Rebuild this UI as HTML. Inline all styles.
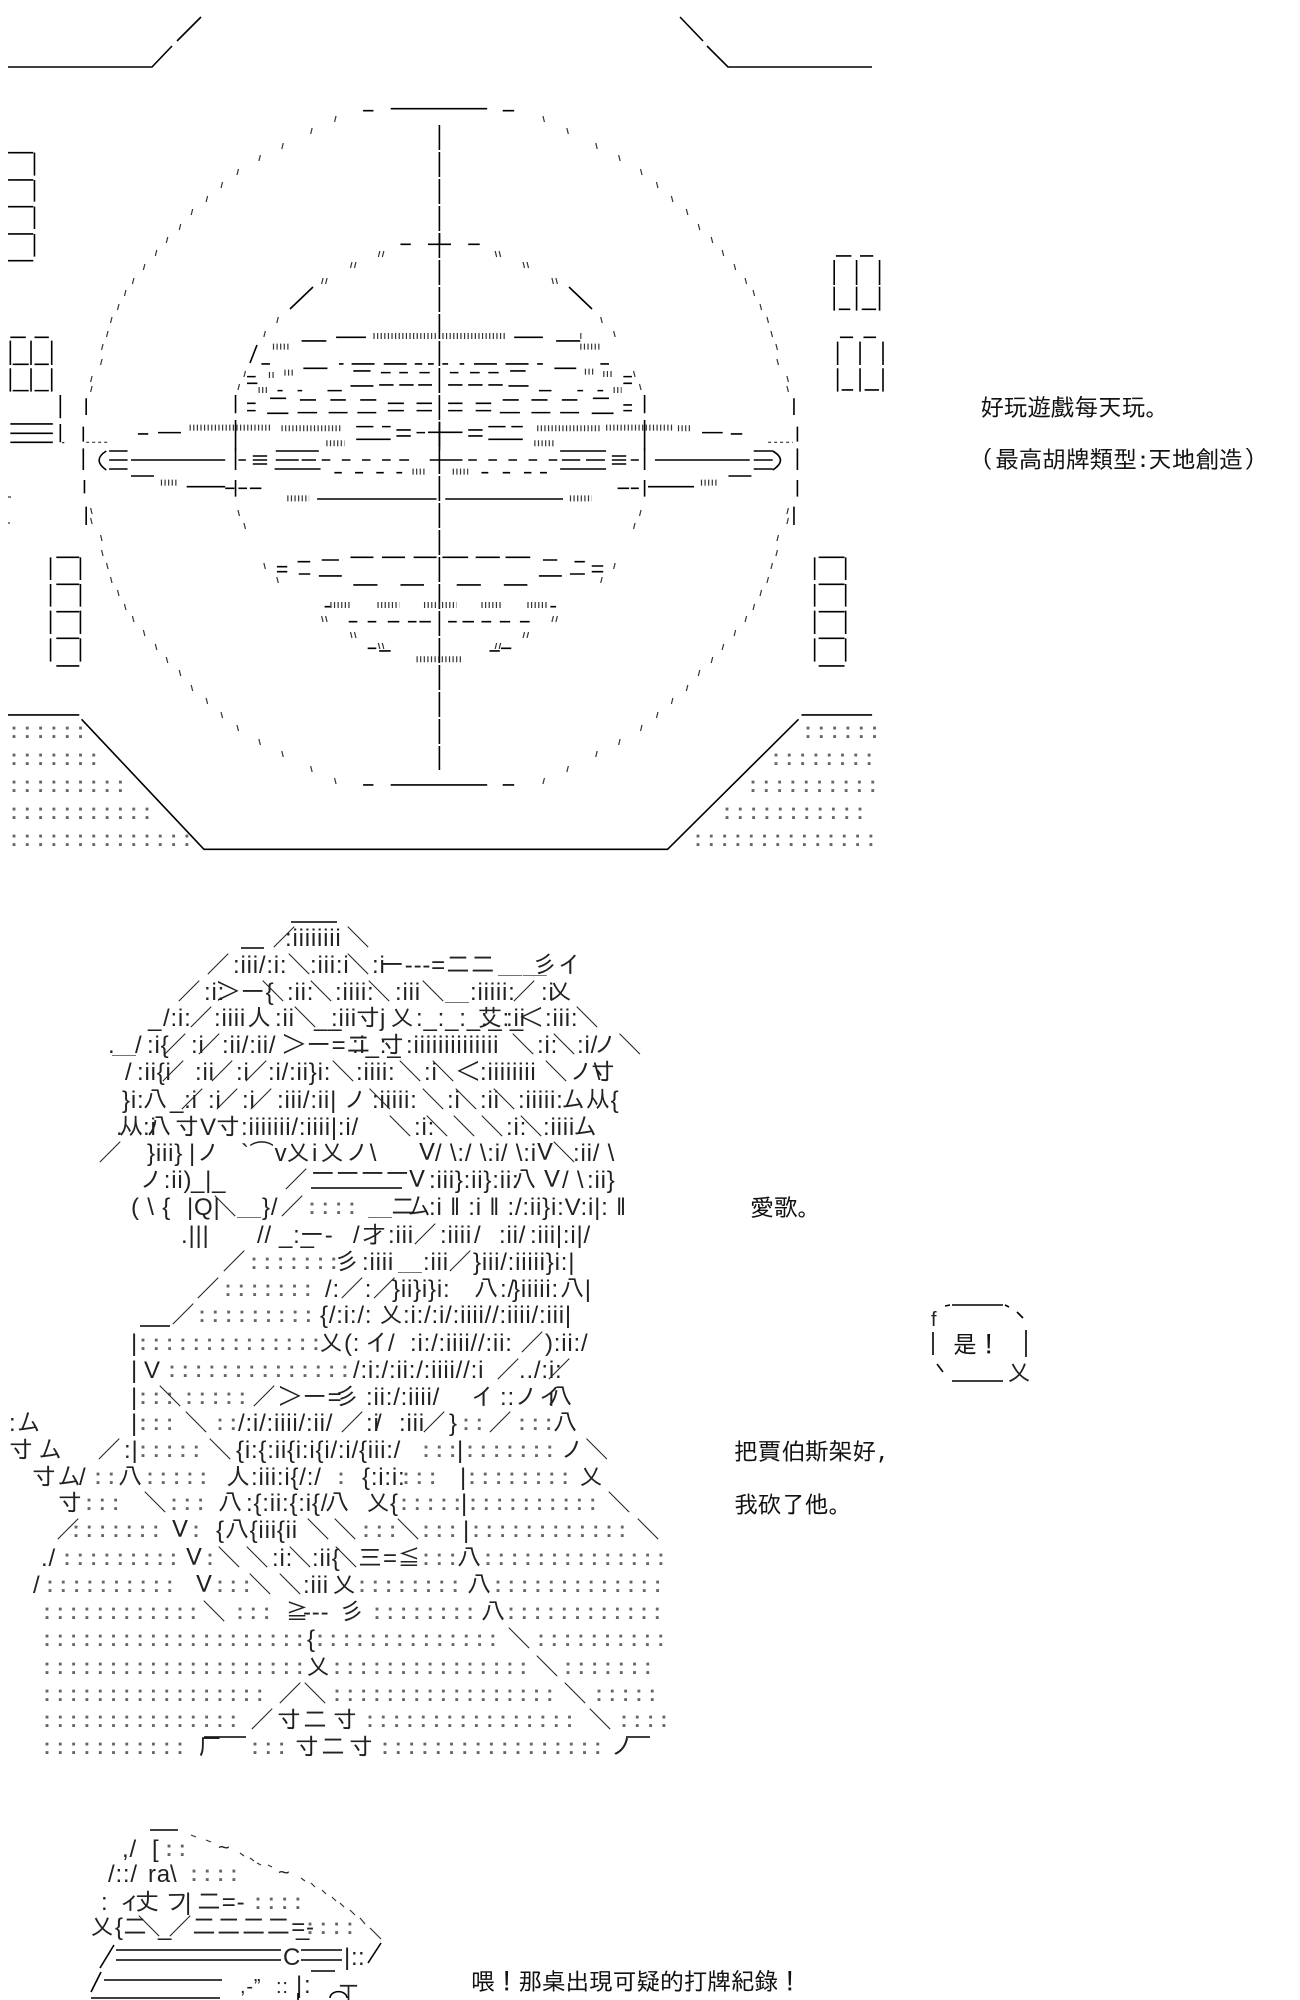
<!DOCTYPE html>
<html><head><meta charset="utf-8"><style>
html,body{margin:0;padding:0;background:#fff}
svg{display:block;position:absolute;left:0;top:0}
text{font-family:"Liberation Sans","IPAGothic","Noto Sans CJK JP",sans-serif;font-size:24px;fill:#222;white-space:pre;letter-spacing:.8px}
.d{font-family:"IPAGothic","Liberation Mono",monospace;fill:#666;letter-spacing:1.3px}
.c{font-family:"IPAGothic","Noto Sans CJK TC",sans-serif;fill:#111;letter-spacing:-.4px}
path{vector-effect:non-scaling-stroke;fill:none;stroke:#000}
.l{stroke-width:1.6}
.h{stroke-width:6;stroke:#333;stroke-dasharray:1.2 2.4}
.t{stroke-width:1.2;stroke:#333}
</style></head><body>
<svg width="1300" height="2000" viewBox="0 0 1300 2000" xmlns="http://www.w3.org/2000/svg">
<path class="l" d="M8 67H152L172 46M177 41L201 17M680 17L703 41M707 46L728 67H872"/>
<path class="l" stroke-dasharray="25 2" d="M439.4 125V770"/>
<defs><g id="q"><g transform="scale(.9957 1)"><path class="t" d="M336 122l1.5-6M312 134l1.5-6M283 149l1.5-6M260 161l1.5-6M238 175l1.5-6M222 188l1.5-6M207 202l1.5-6M192 215l1.5-6M180 230l1.5-6M167 243l1.5-6M156 256l1.5-6M144 270l1.5-6M133 284l1.5-6M125 296l1.5-6M118 310l1.5-6M111 323l1.5-6M107 337l1.5-6M102 350l1.5-6M101 365l1.5-6M91 382l1.5-6M91 392l1.5-6M380 257l1.5-6M384 257l1.5-6M352 268l1.5-6M356 268l1.5-6M323 284l1.5-6M327 284l1.5-6M278 323l1.5-6M265 337l1.5-6M245 377l1.5-6M239 390l1.5-6"/></g></g></defs>
<use href="#q"/>
<use href="#q" transform="translate(879,0) scale(-1,1)"/>
<use href="#q" transform="translate(0,900) scale(1,-1)"/>
<use href="#q" transform="translate(879,900) scale(-1,-1)"/>
<path class="l" d="M313 287L290 309M257 345L250 363M569 287L592 309"/>
<path class="t" d="M8 497h3M8 523h2"/>
<g transform="scale(.5745 .3333)">
<path class="l" d="M632 332H650M680 326H848M875 332H895M14 458H58M60 458V527M14 540H58M60 540V605M14 620H58M60 620V687M14 702H58M60 702V770M14 782H58M18 1012H45M60 1012H85M18 1022V1095M54 1022V1095M90 1022V1095M18 1105V1175M54 1105V1175M90 1105V1175M22 1093H50M60 1093H85M22 1172H50M60 1172H85M1455 768H1482M1497 768H1520M1452 780V855M1491 780V855M1531 780V855M1452 860V932M1491 860V932M1531 860V932M1460 928H1480M1500 928H1525M1462 1012H1485M1503 1012H1525M1458 1025V1095M1497 1025V1095M1537 1025V1095M1458 1105V1175M1497 1105V1175M1537 1105V1175M1465 1170H1485M1505 1170H1530M105 1185V1255M18 1272H92M18 1300H92M18 1327H92M105 1272V1327M150 1195V1245M145 1280V1325M1382 1195V1245M1388 1280V1325M410 1185V1240M410 1260V1350M1122 1185V1240M1122 1260V1350M697 733H715M745 733H785M815 733H835M765 700V733"/>
<path class="l" d="M525 1023H568M585 1012H637M895 1012H945M968 1023H1010M528 1105H570M612 1092H652M668 1092H708M825 1092H865M880 1092H920M965 1105H1003M590 1092H598M722 1092H735M745 1092H755M770 1092H780M800 1092H808M935 1092H945M455 1092H470M1045 1092H1060M615 1113H645M663 1118H680M695 1118H710M730 1118H748M783 1118H798M818 1118H835M850 1118H868M888 1113H915M430 1130H445M430 1150H448M1085 1130H1100M1085 1150H1100M610 1158H650M660 1155H685M695 1155H720M728 1155H752M780 1155H805M815 1155H840M850 1155H875M885 1158H920M483 1172H492M518 1172H526M570 1172H595M938 1172H960M1005 1172H1015M1040 1172H1050M470 1195H498M522 1200H550M575 1200H602M627 1200H655M675 1210H703M725 1210H752M780 1210H805M828 1210H855M875 1200H903M925 1200H953M978 1200H1005M1032 1195H1060M430 1210H445M430 1232H445M465 1240H502M518 1238H552M572 1238H605M622 1238H655M675 1232H703M725 1232H752M780 1232H805M828 1232H855M870 1238H905M925 1238H958M975 1238H1008M1030 1240H1068M1085 1215H1100M1085 1232H1100M240 1302H258M275 1298H315M620 1280H650M665 1280H680M620 1318H680M690 1290H715M690 1308H715M725 1298H740M745 1297H805M815 1290H840M815 1308H840M850 1280H880M890 1280H910M850 1318H910M1222 1298H1258M1272 1302H1292M765 1265V1350"/>
<path class="h" d="M650 1008H760M770 1008H880M330 1283H470M490 1285H595M935 1285H1045M1055 1283H1170M1180 1285H1205M568 1330H600M930 1330H965M475 1040H505M1010 1040H1045M495 1118H510M1018 1115H1035M1050 1122H1065M468 1125H480M450 1170H465M1068 1170H1082M1010 1008H1012"/>
<path class="t" stroke-dasharray="3 3" d="M150 1327H190M1337 1327H1380M108 1328H112"/>
</g>
<g transform="translate(0,450) scale(.5745 .3333)">
<path class="l" d="M185 3Q160 30 185 60M1345 3Q1372 30 1345 60M190 3H222M190 30H222M190 57H222M228 30H392M410 -5V60M415 30H428M440 18H465M440 30H465M440 42H465M480 3H555M480 30H520M478 57H558M525 30H550M560 30H575M595 30H610M630 30H645M665 30H680M695 30H712M748 30H805M815 30H830M850 30H865M885 30H900M920 30H935M955 30H970M978 30H1010M1020 30H1053M975 3H1055M975 57H1055M1065 18H1090M1065 30H1090M1065 42H1090M1098 30H1112M1122 -5V60M1140 30H1305M1312 3H1345M1312 30H1345M1312 57H1345"/>
<path class="l" d="M582 68H595M618 68H632M655 68H668M690 68H700M838 68H850M875 68H888M912 68H925M940 68H952M228 78H268M1268 78H1308M325 110H392M392 115H408M410 90V140M415 115H430M435 115H455M1075 115H1095M1098 115H1112M1122 90V140M1128 110H1208M552 147H760M775 147H980M145 -5V60M1388 -5V60M147 90V130M1388 90V140M150 170V225M1382 170V225M610 322H650M665 322H705M720 322H760M770 322H815M828 322H870M880 322H923M560 330H590M518 335H540M945 330H970M1000 335H1018M1030 348H1050M482 350H500M482 365H500M520 372H540M555 378H595M938 378H978M992 372H1018M1030 365H1050M615 405H657M697 405H738M795 405H837M877 405H918M565 470H575M958 470H968M607 515H622M640 515H655M675 515H695M710 515H725M730 515H750M780 515H795M805 515H825M838 515H855M870 515H888M905 515H922M640 595H655M660 603H680M852 603H870M872 595H890"/>
<path class="l" d="M88 322V390M140 322V390M88 402V470M140 402V470M88 482V552M140 482V552M88 565V635M140 565V635M98 322H138M98 403H138M98 485H138M98 565H138M98 648H138M1418 322V390M1472 322V390M1418 402V470M1472 402V470M1418 482V552M1472 482V552M1418 565V635M1472 565V635M1425 322H1470M1425 403H1470M1425 485H1470M1425 565H1470M1425 648H1470"/>
<path class="l" d="M14 795H138M142 808L355 1198H1162L1390 808M1395 795H1518M632 1005H650M680 1005H848M875 1005H895"/>
<path class="h" d="M280 98H310M1220 98H1250M500 145H538M992 145H1030M718 65H740M788 65H815M575 465H612M657 465H695M738 465H795M838 465H875M918 465H955M725 628H805"/>
</g>
<g class="dots">
<text class="d" x="8" y="739">::::::</text>
<text class="d" x="8" y="766">:::::::</text>
<text class="d" x="8" y="793">:::::::::</text>
<text class="d" x="8" y="820">:::::::::::</text>
<text class="d" x="8" y="847">::::::::::::::</text>
<text class="d" x="802" y="739">::::::</text>
<text class="d" x="770" y="766">::::::::</text>
<text class="d" x="747" y="793">::::::::::</text>
<text class="d" x="721" y="820">:::::::::::</text>
<text class="d" x="692" y="847">::::::::::::::</text>
</g>

<text class="c" x="980" y="416">好玩遊戲每天玩。</text>
<text class="c" y="468"><tspan x="981">(</tspan><tspan x="995">最高胡牌類型</tspan><tspan x="1137">:</tspan><tspan x="1148">天地創造</tspan><tspan x="1244">)</tspan></text>

<path class="l" d="M291 922H337M241 948H264M311 1188H402"/>
<text y="946"><tspan x="272">／</tspan><tspan x="285">:iiiiiiii</tspan><tspan x="346">＼</tspan></text>
<text y="973"><tspan x="206">／</tspan><tspan x="233">:iii/:i:</tspan><tspan x="287">＼</tspan><tspan x="310">:iii:i</tspan><tspan x="346">＼</tspan><tspan x="372">:i</tspan><tspan x="380">ー---=二二</tspan><tspan x="498">＿＿</tspan><tspan x="533">彡イ</tspan></text>
<text y="1000"><tspan x="177">／</tspan><tspan x="204">:i:</tspan><tspan x="216">＞ー{</tspan><tspan x="261">＼</tspan><tspan x="287">:ii:</tspan><tspan x="309">＼</tspan><tspan x="335">:iiii:</tspan><tspan x="367">＼</tspan><tspan x="395">:iii</tspan><tspan x="421">＼</tspan><tspan x="445">＿</tspan><tspan x="470">:iiiii:</tspan><tspan x="512">／</tspan><tspan x="541">:i</tspan><tspan x="548">乂</tspan></text>
<text y="1026"><tspan x="148">_</tspan><tspan x="163">/:i:</tspan><tspan x="189">／</tspan><tspan x="214">:iiii</tspan><tspan x="247">人</tspan><tspan x="275">:ii</tspan><tspan x="293">＼</tspan><tspan x="314">__</tspan><tspan x="331">:iii</tspan><tspan x="356">寸</tspan><tspan x="380">j</tspan><tspan x="390">乂</tspan><tspan x="416">:_:_:_:_:_</tspan><tspan x="478">艾</tspan><tspan x="506">:ii</tspan><tspan x="519">＜</tspan><tspan x="545">:iii:</tspan><tspan x="575">＼</tspan></text>
<text y="1053"><tspan x="108">.</tspan><tspan x="112">＿</tspan><tspan x="135">/</tspan><tspan x="147">:i{</tspan><tspan x="163">／</tspan><tspan x="191">:i</tspan><tspan x="197">／</tspan><tspan x="222">:ii/:ii/</tspan><tspan x="282">＞ー=二</tspan><tspan x="352">:i_:_</tspan><tspan x="380">寸</tspan><tspan x="406">:iiiiiiiiiiiiii</tspan><tspan x="511">＼</tspan><tspan x="537">:i:</tspan><tspan x="552">＼</tspan><tspan x="577">:i/</tspan><tspan x="593">ノ＼</tspan></text>
<text y="1080"><tspan x="125">/</tspan><tspan x="137">:ii{i</tspan><tspan x="161">／</tspan><tspan x="195">:ii</tspan><tspan x="210">／</tspan><tspan x="236">:i</tspan><tspan x="244">／</tspan><tspan x="268">:i/:ii}i:</tspan><tspan x="331">＼</tspan><tspan x="356">:iiii:</tspan><tspan x="398">＼</tspan><tspan x="424">:i</tspan><tspan x="431">＼</tspan><tspan x="456">＜</tspan><tspan x="480">:iiiiiiii</tspan><tspan x="544">＼</tspan><tspan x="569">ノ\</tspan><tspan x="591">寸</tspan></text>
<text y="1108"><tspan x="122">}i:</tspan><tspan x="143">八</tspan><tspan x="170">_:i</tspan><tspan x="180">／</tspan><tspan x="208">:i</tspan><tspan x="215">／</tspan><tspan x="242">:i</tspan><tspan x="249">／</tspan><tspan x="277">:iii/:ii|</tspan><tspan x="343">ノ＼</tspan><tspan x="372">:iiiii:</tspan><tspan x="421">＼</tspan><tspan x="447">:i</tspan><tspan x="454">＼</tspan><tspan x="480">:ii</tspan><tspan x="492">＼</tspan><tspan x="518">:iiiii:</tspan><tspan x="561">厶从{</tspan></text>
<text y="1135"><tspan x="116">.</tspan><tspan x="119">从</tspan><tspan x="143">:i</tspan><tspan x="147">八</tspan><tspan x="175">寸</tspan><tspan x="200">V</tspan><tspan x="216">寸</tspan><tspan x="241">:iiiiiii/:iiii|:i/</tspan><tspan x="388">＼</tspan><tspan x="414">:i:</tspan><tspan x="425">＼</tspan><tspan x="452">＼</tspan><tspan x="480">＼</tspan><tspan x="506">:i:</tspan><tspan x="519">＼</tspan><tspan x="543">:iiii</tspan><tspan x="573">厶</tspan></text>
<text y="1161"><tspan x="98">／</tspan><tspan x="147">}iii}</tspan><tspan x="189">|ノ</tspan><tspan x="241">`⌒v</tspan><tspan x="286">乂</tspan><tspan x="312">i</tspan><tspan x="320">乂</tspan><tspan x="345">ノ\</tspan><tspan x="415">Ｖ</tspan><tspan x="435">/ \:/ \:i/ \:i</tspan><tspan x="533">Ｖ</tspan><tspan x="552">＼</tspan><tspan x="573">:ii/ \</tspan></text>
<text y="1182"><tspan x="311">ーーーー</tspan></text>
<text y="1188"><tspan x="139">ノ:ii)</tspan><tspan x="191">_|_</tspan><tspan x="284">／</tspan><tspan x="405">Ｖ</tspan><tspan x="429">:iii}:ii}:ii:</tspan><tspan x="512">八</tspan><tspan x="540">Ｖ</tspan><tspan x="562">/ \</tspan><tspan x="587">:ii}</tspan></text>
<text y="1215"><tspan x="131">( \ {</tspan><tspan x="187">|Q|</tspan><tspan x="213">＼</tspan><tspan x="237">＿</tspan><tspan x="262">}/</tspan><tspan x="280">／</tspan><tspan class="d" x="306">::::</tspan><tspan x="368">＿</tspan><tspan x="391">二</tspan><tspan x="407">厶</tspan><tspan x="429">:i ‖ :i ‖ :/:ii}i:V:i|: ‖</tspan></text>

<text y="1243"><tspan x="181">.|||</tspan><tspan x="257">//</tspan><tspan x="279">_:_</tspan><tspan x="300">ー-</tspan><tspan x="353">/</tspan><tspan x="362">才</tspan><tspan x="388">:iii</tspan><tspan x="413">／</tspan><tspan x="440">:iiii</tspan><tspan x="474">/</tspan><tspan x="499">:ii/</tspan><tspan x="530">:iii|:i|/</tspan></text>
<text y="1270"><tspan x="222">／</tspan><tspan class="d" x="248">:::::::</tspan><tspan x="335">彡</tspan><tspan x="362">:iiii</tspan><tspan x="398">＿</tspan><tspan x="423">:iii</tspan><tspan x="448">／</tspan><tspan x="473">}iii/:iiiii}i:|</tspan></text>
<text y="1297"><tspan x="196">／</tspan><tspan class="d" x="222">:::::::</tspan><tspan x="325">/:／:／</tspan><tspan x="392">}ii}i}i:</tspan><tspan x="474">八</tspan><tspan x="500">:/</tspan><tspan x="512">}iiiii:</tspan><tspan x="560">八|</tspan></text>
<path class="l" d="M140 1326H170"/>
<text y="1323"><tspan x="171">／</tspan><tspan class="d" x="196">:::::::::</tspan><tspan x="320">{/:i:/:</tspan><tspan x="379">乂</tspan><tspan x="403">:i:/:i/:iiii//:iiii/:iii|</tspan></text>
<text y="1351"><tspan x="131">|</tspan><tspan class="d" x="137">::::::::::::::</tspan><tspan x="319">乂</tspan><tspan x="344">(:</tspan><tspan x="365">イ</tspan><tspan x="388">/</tspan><tspan x="410">:i:/:iiii//:ii:</tspan><tspan x="520">／</tspan><tspan x="545">):ii:/</tspan></text>
<text y="1378"><tspan x="131">|</tspan><tspan x="144">V</tspan><tspan class="d" x="166">::::::::::::::</tspan><tspan x="353">/:i:/:ii:/:iiii//:i</tspan><tspan x="496">／</tspan><tspan x="519">../:i:</tspan><tspan x="547">／</tspan></text>
<text y="1405"><tspan x="131">|</tspan><tspan class="d" x="137">:::</tspan><tspan x="158">＼</tspan><tspan class="d" x="183">:::::</tspan><tspan x="252">／</tspan><tspan x="278">＞ー=</tspan><tspan x="335">彡</tspan><tspan x="366">:ii:/:iiii/</tspan><tspan x="471">イ</tspan><tspan x="500">::</tspan><tspan x="514">ノイ</tspan><tspan x="548">八</tspan></text>
<text y="1431"><tspan x="9">:厶</tspan><tspan x="131">|</tspan><tspan class="d" x="137">:::</tspan><tspan x="184">＼</tspan><tspan class="d" x="214">::</tspan><tspan x="238">/:i/:iiii/:ii/</tspan><tspan x="340">／</tspan><tspan x="366">:i</tspan><tspan x="375">/</tspan><tspan x="399">:iii</tspan><tspan x="422">／</tspan><tspan x="449">}</tspan><tspan class="d" x="460">::</tspan><tspan x="488">／</tspan><tspan class="d" x="516">:::</tspan><tspan x="553">八</tspan></text>
<text y="1458"><tspan x="9">寸</tspan><tspan x="38">厶</tspan><tspan x="97">／</tspan><tspan x="124">:|</tspan><tspan class="d" x="137">:::::</tspan><tspan x="208">＼</tspan><tspan x="236">{i:{:ii{i:i{i/:i/{iii:/</tspan><tspan class="d" x="420">:::</tspan><tspan x="457">|</tspan><tspan class="d" x="464">:::::::</tspan><tspan x="560">ノ＼</tspan></text>
<text y="1485"><tspan x="32">寸</tspan><tspan x="57">厶</tspan><tspan x="79">/</tspan><tspan class="d" x="92">::</tspan><tspan x="118">八</tspan><tspan class="d" x="144">:::::</tspan><tspan x="226">人</tspan><tspan x="251">:iii:i{/:/</tspan><tspan class="d" x="335">:</tspan><tspan x="362">{:i:i:</tspan><tspan class="d" x="400">:::</tspan><tspan x="460">|</tspan><tspan class="d" x="466">::::::::</tspan><tspan x="579">乂</tspan></text>
<text y="1511"><tspan x="58">寸</tspan><tspan class="d" x="83">:::</tspan><tspan x="143">＼</tspan><tspan class="d" x="168">:::</tspan><tspan x="218">八</tspan><tspan x="246">:{:ii:{:i{/</tspan><tspan x="325">八</tspan><tspan x="366">乂</tspan><tspan x="390">{</tspan><tspan class="d" x="398">:::::</tspan><tspan x="461">|</tspan><tspan class="d" x="467">::::::::::</tspan><tspan x="607">＼</tspan></text>
<text y="1538"><tspan x="56">／</tspan><tspan class="d" x="70">:::::::</tspan><tspan x="168">Ｖ</tspan><tspan class="d" x="190">:</tspan><tspan x="216">{八{iii{ii</tspan><tspan x="306">＼</tspan><tspan x="333">＼</tspan><tspan class="d" x="360">:::</tspan><tspan x="396">＼</tspan><tspan class="d" x="420">:::</tspan><tspan x="463">|</tspan><tspan class="d" x="470">::::::::::::</tspan><tspan x="636">＼</tspan></text>

<text y="1566"><tspan x="41">./</tspan><tspan class="d" x="61">:::::::::</tspan><tspan x="182">Ｖ</tspan><tspan class="d" x="204">:</tspan><tspan x="217">＼</tspan><tspan x="245">＼</tspan><tspan x="272">:i:</tspan><tspan x="288">＼</tspan><tspan x="312">:ii{</tspan><tspan x="334">＼</tspan><tspan x="358">三</tspan><tspan x="383">=</tspan><tspan x="397">≦</tspan><tspan class="d" x="420">:::</tspan><tspan x="457">八</tspan><tspan class="d" x="482">::::::::::::::</tspan></text>
<text y="1593"><tspan x="33">/</tspan><tspan class="d" x="44">::::::::::</tspan><tspan x="192">Ｖ</tspan><tspan class="d" x="214">:::</tspan><tspan x="248">＼</tspan><tspan x="278">＼</tspan><tspan x="303">:iii</tspan><tspan x="332">乂</tspan><tspan class="d" x="356">::::::::</tspan><tspan x="467">八</tspan><tspan class="d" x="492">:::::::::::::</tspan></text>
<text y="1620"><tspan class="d" x="41">::::::::::::</tspan><tspan x="202">＼</tspan><tspan class="d" x="234">:::</tspan><tspan x="285">≧</tspan><tspan x="303">---</tspan><tspan x="340">彡</tspan><tspan class="d" x="371">::::::::</tspan><tspan x="481">八</tspan><tspan class="d" x="505">::::::::::::</tspan></text>
<text y="1647"><tspan class="d" x="41">::::::::::::::::::::</tspan><tspan x="307">{</tspan><tspan class="d" x="314">::::::::::::::</tspan><tspan x="507">＼</tspan><tspan class="d" x="535">::::::::::</tspan></text>
<text y="1675"><tspan class="d" x="41">::::::::::::::::::::</tspan><tspan x="306">乂</tspan><tspan class="d" x="331">:::::::::::::::</tspan><tspan x="535">＼</tspan><tspan class="d" x="562">:::::::</tspan></text>
<text y="1702"><tspan class="d" x="41">:::::::::::::::::</tspan><tspan x="278">／</tspan><tspan x="303">＼</tspan><tspan class="d" x="331">:::::::::::::::::</tspan><tspan x="563">＼</tspan><tspan class="d" x="593">:::::</tspan></text>
<text y="1728"><tspan class="d" x="41">:::::::::::::::</tspan><tspan x="250">／</tspan><tspan x="277">寸</tspan><tspan x="303">二</tspan><tspan x="333">寸</tspan><tspan class="d" x="364">::::::::::::::::</tspan><tspan x="588">＼</tspan><tspan class="d" x="618">::::</tspan></text>
<path class="l" d="M204 1737H246M626 1737H650"/>
<text y="1755"><tspan class="d" x="41">:::::::::::</tspan><tspan x="198">厂</tspan><tspan class="d" x="249">:::</tspan><tspan x="295">寸</tspan><tspan x="321">二</tspan><tspan x="349">寸</tspan><tspan class="d" x="379">:::::::::::::::::</tspan><tspan x="610">ノ</tspan></text>

<text class="c" x="750" y="1216">愛歌。</text>
<path class="l" d="M952 1305H1003M952 1381H1003M933 1332V1355M1026 1330V1357M945 1306L950 1305M1005 1305L1009 1307M1017 1312L1023 1318M937 1364L943 1372"/>
<text x="931" y="1326" style="font-size:20px">f</text>
<text class="c" x="953" y="1353">是！</text>
<text x="1007" y="1381">乂</text>

<text class="c" y="1460"><tspan x="734">把賈伯斯架好</tspan><tspan x="878">,</tspan></text>
<text class="c" x="734" y="1513">我砍了他。</text>

<path class="l" d="M150 1830H178M116 1950H281M116 1960H281M301 1950H342M301 1960H342M104 1980H222M91 1998H220M311 1971H335"/>
<path class="t" d="M191 1835l5 2M206 1840l5 2M240 1853l4 3M250 1858l4 3M257 1863l4 2M268 1865l4 2M301 1878l4 3M311 1883l4 4M322 1890l4 4M332 1897l4 4M340 1903l4 4M350 1910l5 5M360 1918l5 6M370 1928l11 11"/>
<text x="218" y="1854" style="font-size:20px">~</text>
<text x="278" y="1879" style="font-size:20px">~</text>
<text y="1857"><tspan x="122">,/</tspan><tspan x="152">[</tspan><tspan class="d" x="163">::</tspan></text>
<text y="1882"><tspan x="108">/::/</tspan><tspan x="148">ra</tspan><tspan x="170">\</tspan><tspan class="d" x="188">::::</tspan></text>
<text y="1910"><tspan x="101">:</tspan><tspan x="118">ィ</tspan><tspan x="135">丈</tspan><tspan x="165">フ</tspan><tspan x="185">|</tspan><tspan x="197">二=-</tspan><tspan class="d" x="252">::::</tspan></text>
<text y="1935"><tspan x="90">乂</tspan><tspan x="115">{</tspan><tspan x="123">二</tspan><tspan x="137">＼</tspan><tspan x="158">_</tspan><tspan x="168">／</tspan><tspan x="192">二二二二=-</tspan><tspan x="296">_</tspan><tspan class="d" x="304">::::</tspan></text>
<path class="l" d="M381 1943L368 1963M114 1945L100 1968"/>
<text y="1965"><tspan x="283">C</tspan><tspan x="344">|:</tspan><tspan x="358">:</tspan></text>
<text y="1993"><tspan x="240" style="font-size:20px">,-”</tspan><tspan x="276" style="font-size:20px">::</tspan><tspan x="296">|</tspan><tspan x="304">:</tspan><tspan x="340">┬</tspan></text>
<path class="l" d="M101 1972L91 1992M298 1993V2000M330 1998A8 6 0 0 1 347 1998"/>
<text class="c" x="471" y="1990">喂！那桌出現可疑的打牌紀錄！</text>
</svg>
</body></html>
